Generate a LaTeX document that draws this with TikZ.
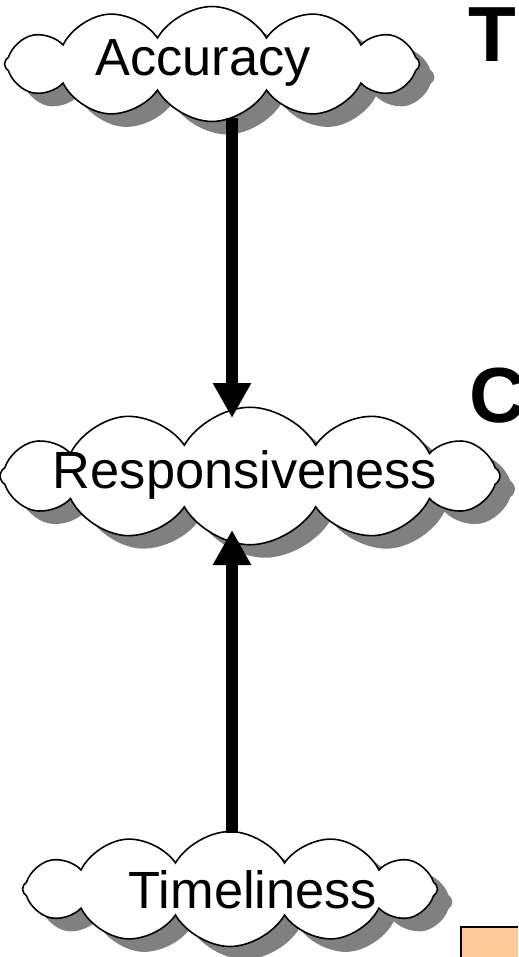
\documentclass[tikz,border=0pt]{standalone}
\usepackage{fontspec}
\setmainfont{Liberation Sans}
\usetikzlibrary{shapes.symbols,shadows,arrows.meta,calc}
\definecolor{shadowgray}{RGB}{128,128,128}
\definecolor{notepeach}{RGB}{255,204,153}
\tikzset{
  idea/.style={cloud, cloud puffs=12, cloud puff arc=120, cloud ignores aspect,
    draw, line width=0.9pt, fill=white, inner sep=0pt,
    drop shadow={shadow xshift=0.3cm, shadow yshift=-0.26cm, fill=shadowgray, opacity=1}},
  ideatext/.style={anchor=base, inner sep=0pt, font=\fontsize{29.8}{34}\selectfont},
  link/.style={line width=0.24cm, -{Triangle[width=0.72cm,length=0.7cm]}},
  heading/.style={anchor=base west, inner sep=0pt, font=\fontsize{44.5}{50}\selectfont\bfseries}
}

\begin{document}
\begin{tikzpicture}[x=0.02cm,y=-0.02cm]
  \useasboundingbox (0,0) rectangle (518,957);
  \clip (0,0) rectangle (518,957);

  \node[idea, minimum width=8.3cm, minimum height=2.3cm] (acc) at (212,64) {};
  \node[idea, minimum width=10cm, minimum height=2.75cm] (resp) at (250,476) {};
  \node[idea, minimum width=8.3cm, minimum height=2.3cm] (tim) at (230,889) {};

  \draw[link] ($(acc.center)+(20,54)$) -- ($(resp.center)+(-18,-58)$);
  \draw[link] ($(tim.center)+(2,-56)$) -- ($(resp.center)+(-18,54)$);

  \node[ideatext] (accText) at (203,75) {Accuracy};
  \node[ideatext] (respText) at (245,488) {Responsiveness};
  \node[ideatext] (timText) at (253,908) {Timeliness};

  \node[heading] (topHead) at (468,61) {T};
  \node[heading] (midHead) at (469,422) {C};
  \draw[line width=1pt, fill=notepeach] (461,927) rectangle (540,980);
\end{tikzpicture}
\end{document}
